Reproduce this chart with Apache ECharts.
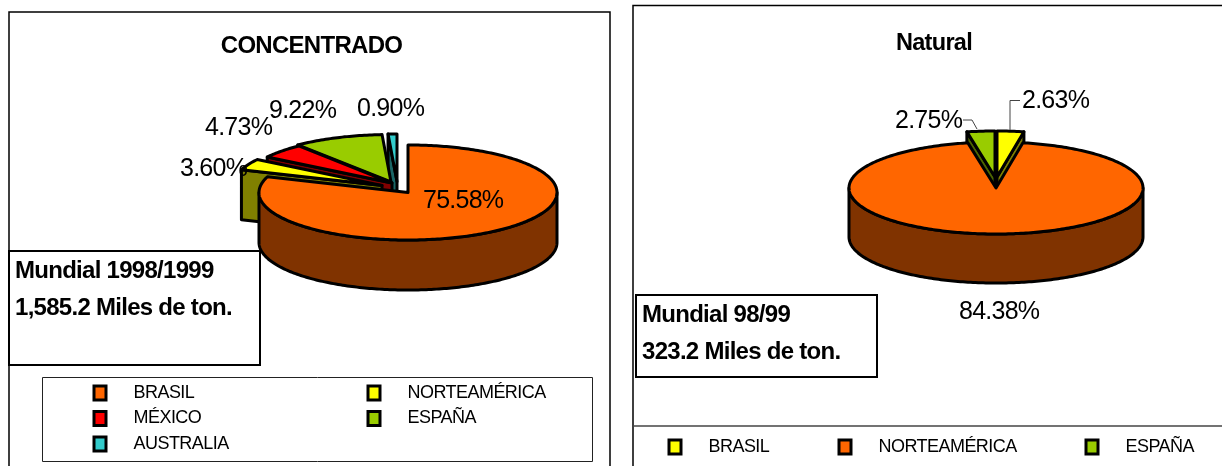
<!DOCTYPE html>
<html>
<head>
<meta charset="utf-8">
<style>
html, body { margin: 0; padding: 0; background: #fff; overflow: hidden; }
#left { position: absolute; left: 0; top: 0; width: 620px; height: 466px; }
#right { position: absolute; left: 620px; top: 0; width: 602px; height: 466px; }
</style>
<script src="https://cdn.jsdelivr.net/npm/echarts@6/dist/echarts.min.js"></script>
</head>
<body>
<div id="left"></div>
<div id="right"></div>
<script>
// datos
var concentradoNames = ['BRASIL', 'NORTEAMÉRICA', 'MÉXICO', 'ESPAÑA', 'AUSTRALIA'];
var concentradoValues = [75.58, 3.60, 4.73, 9.22, 0.90];
var naturalNames = ['BRASIL', 'NORTEAMÉRICA', 'ESPAÑA'];
var naturalValues = [2.63, 84.38, 2.75];

var FONT = '"Liberation Sans", Arial, sans-serif';

// the original text is set tight, echarts has no letter spacing option
var origFillText = CanvasRenderingContext2D.prototype.fillText;
CanvasRenderingContext2D.prototype.fillText = function (t, x, y, m) {
    var size = parseFloat(/([\d.]+)px/.exec(this.font)[1]);
    this.letterSpacing = (-0.03 * size) + 'px';
    if (m === undefined) {
        origFillText.call(this, t, x, y);
    } else {
        origFillText.call(this, t, x, y, m);
    }
};

function degToPoint(t, cx, cy, rx, ry) {
    var a = t * Math.PI / 180;
    return [cx + rx * Math.sin(a), cy - ry * Math.cos(a)];
}

function arcPoints(t0, t1, cx, cy, rx, ry) {
    var pts = [];
    var n = Math.max(2, Math.ceil(Math.abs(t1 - t0)));
    for (var i = 0; i <= n; i++) {
        pts.push(degToPoint(t0 + (t1 - t0) * i / n, cx, cy, rx, ry));
    }
    return pts;
}

function shifted(pts, dy) {
    return pts.map(function (p) { return [p[0], p[1] + dy]; });
}

function polygon(points, fill) {
    return {
        type: 'polygon',
        shape: { points: points },
        style: { fill: fill, stroke: '#000', lineWidth: 3, lineJoin: 'round' }
    };
}

// una porcion de pastel 3D: paredes primero, la tapa encima
function sliceChildren(t0, t1, cx, cy, g, top, wall) {
    var children = [];
    var depth = g.depth;
    var apex = [cx, cy];
    if (Math.sin(t0 * Math.PI / 180) < -0.001) {
        var a = degToPoint(t0, cx, cy, g.rx, g.ry);
        children.push(polygon([apex, a, [a[0], a[1] + depth], [apex[0], apex[1] + depth]], wall));
    }
    if (Math.sin(t1 * Math.PI / 180) > 0.001) {
        var b = degToPoint(t1, cx, cy, g.rx, g.ry);
        children.push(polygon([apex, b, [b[0], b[1] + depth], [apex[0], apex[1] + depth]], wall));
    }
    var f0 = Math.max(t0, 90), f1 = Math.min(t1, 270);
    if (f1 > f0) {
        var rim = arcPoints(f0, f1, cx, cy, g.rx, g.ry);
        children.push(polygon(rim.concat(shifted(rim, depth).reverse()), wall));
    }
    children.push(polygon([apex].concat(arcPoints(t0, t1, cx, cy, g.rx, g.ry)), top));
    return children;
}

function labelText(text, pos) {
    return {
        type: 'text',
        z2: 100,
        style: {
            text: text, x: pos[0], y: pos[1], fill: '#000',
            font: '25px ' + FONT, align: 'left', verticalAlign: 'middle'
        }
    };
}

function boxItems(box) {
    return [
        {
            type: 'rect', z: 100,
            shape: { x: box.x, y: box.y, width: box.w, height: box.h },
            style: { fill: '#fff', stroke: '#000', lineWidth: 2 }
        },
        {
            type: 'text', z: 101, x: box.x + 6, y: box.y + 20,
            style: { text: box.lines[0], font: 'bold 24px ' + FONT, fill: '#000', verticalAlign: 'middle' }
        },
        {
            type: 'text', z: 101, x: box.x + 6, y: box.y + 57,
            style: { text: box.lines[1], font: 'bold 24px ' + FONT, fill: '#000', verticalAlign: 'middle' }
        }
    ];
}

function pieSeries(cfg) {
    var total = cfg.values.reduce(function (s, v) { return s + v; }, 0);
    var start = 0;
    var spans = cfg.values.map(function (v) {
        var span = [start, start + v / total * 360];
        start = span[1];
        return span;
    });
    return cfg.drawOrder.map(function (i) {
        return {
            type: 'custom',
            name: cfg.names[i],
            coordinateSystem: 'none',
            silent: true,
            itemStyle: { color: cfg.tops[i] },
            data: [cfg.values[i]],
            renderItem: function (params, api) {
                var cx = cfg.geom.cx + cfg.explode[i][0];
                var cy = cfg.geom.cy + cfg.explode[i][1];
                var kids = sliceChildren(spans[i][0], spans[i][1], cx, cy, cfg.geom, cfg.tops[i], cfg.walls[i]);
                kids.push(labelText(api.value(0).toFixed(2) + '%', cfg.labelPos[i]));
                if (cfg.leaders[i]) {
                    kids.push({
                        type: 'polyline', z2: 90,
                        shape: { points: cfg.leaders[i] },
                        style: { stroke: '#444', lineWidth: 1, fill: null }
                    });
                }
                return { type: 'group', children: kids };
            }
        };
    });
}

var markerStyle = { borderColor: '#000', borderWidth: 3 };
var legendText = { fontFamily: FONT, fontSize: 18, color: '#000', padding: [0, 0, 0, 22.5] };

function legendAt(x, y, names) {
    return {
        orient: 'vertical', left: x, top: y, itemWidth: 12, itemHeight: 14, itemGap: 7.5,
        padding: 0, icon: 'rect', itemStyle: markerStyle, textStyle: legendText, selectedMode: false,
        data: names
    };
}

var left = echarts.init(document.getElementById('left'), null, { renderer: 'canvas' });
left.setOption({
    animation: false,
    backgroundColor: '#fff',
    title: {
        text: 'CONCENTRADO', left: 306.5, top: 29, textAlign: 'center',
        textStyle: { fontFamily: FONT, fontSize: 24, fontWeight: 'bold', color: '#000' }
    },
    legend: [
        legendAt(92.5, 384, [concentradoNames[0], concentradoNames[2], concentradoNames[4]]),
        legendAt(366.5, 384, [concentradoNames[1], concentradoNames[3]])
    ],
    graphic: [
        {
            type: 'rect', z: -1, silent: true,
            shape: { x: 9, y: 12, width: 601, height: 470 },
            style: { fill: '#fff', stroke: '#000', lineWidth: 1.5 }
        },
        {
            type: 'rect', z: 1,
            shape: { x: 42.5, y: 377.5, width: 550, height: 84 },
            style: { fill: null, stroke: '#222', lineWidth: 1 }
        }
    ].concat(boxItems({
        x: 9, y: 251, w: 251, h: 114,
        lines: ['Mundial 1998/1999', '1,585.2 Miles de ton.']
    })),
    series: pieSeries({
        names: concentradoNames,
        values: concentradoValues,
        tops: ['#ff6600', '#ffff00', '#ff0000', '#99cc00', '#33cccc'],
        walls: ['#803300', '#808000', '#800000', '#4d6600', '#1a6666'],
        geom: { cx: 408, cy: 192.5, rx: 149, ry: 47.5, depth: 50 },
        explode: [[0, 0], [-26, -7], [-16, -9.5], [-17, -10.5], [-11, -11]],
        drawOrder: [4, 3, 2, 1, 0],
        labelPos: [[423, 201.5], [180, 169.5], [205, 128.5], [269, 111.5], [357, 109.5]],
        leaders: {}
    })
});

var right = echarts.init(document.getElementById('right'), null, { renderer: 'canvas' });
right.setOption({
    animation: false,
    backgroundColor: '#fff',
    title: {
        text: 'Natural', left: 309, top: 27, textAlign: 'center',
        textStyle: { fontFamily: FONT, fontSize: 23.5, fontWeight: 'bold', color: '#000' }
    },
    legend: [
        legendAt(47.5, 438, [naturalNames[0]]),
        legendAt(217.5, 438, [naturalNames[1]]),
        legendAt(464.5, 438, [naturalNames[2]])
    ],
    graphic: [
        {
            type: 'rect', z: -1, silent: true,
            shape: { x: 13, y: 5.5, width: 700, height: 470 },
            style: { fill: '#fff', stroke: '#000', lineWidth: 1.5 }
        },
        {
            type: 'line', z: 1,
            shape: { x1: 13, y1: 426, x2: 602, y2: 426 },
            style: { stroke: '#444', lineWidth: 1.5 }
        }
    ].concat(boxItems({
        x: 16, y: 295, w: 241, h: 82,
        lines: ['Mundial 98/99', '323.2 Miles de ton.']
    })),
    series: pieSeries({
        names: naturalNames,
        values: naturalValues,
        tops: ['#ffff00', '#ff6600', '#99cc00'],
        walls: ['#808000', '#803300', '#4d6600'],
        geom: { cx: 376, cy: 188, rx: 147, ry: 46, depth: 49 },
        explode: [[1, -11], [0, 0], [-1, -11]],
        drawOrder: [0, 2, 1],
        labelPos: [[402, 101.5], [339, 312.5], [275, 121.5]],
        leaders: {
            0: [[400, 100.5], [390, 100.5], [390, 130]],
            2: [[343, 120], [352, 120], [357, 129]]
        }
    })
});
</script>
</body>
</html>
